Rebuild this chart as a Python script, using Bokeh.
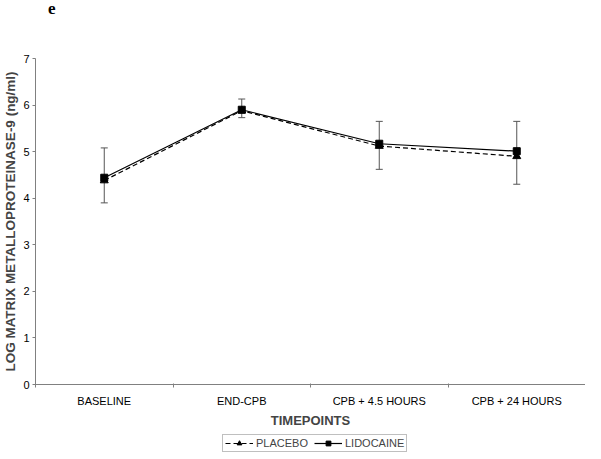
from bokeh.plotting import figure
from bokeh.layouts import column
from bokeh.models import (ColumnDataSource, Whisker, FixedTicker, Range1d, Legend, LegendItem, TeeHead, Div)
from bokeh.embed import file_html
from bokeh.resources import INLINE

categories = ["BASELINE", "END-CPB", "CPB + 4.5 HOURS", "CPB + 24 HOURS"]
placebo = [4.38, 5.88, 5.12, 4.90]
lidocaine = [4.44, 5.90, 5.17, 5.01]
err_upper = [5.08, 6.13, 5.65, 5.65]
err_lower = [3.90, 5.73, 4.62, 4.30]
y_ticks = [0, 1, 2, 3, 4, 5, 6, 7]
series_names = ["PLACEBO", "LIDOCAINE"]

xpos = [i + 0.5 for i in range(len(categories))]
src = ColumnDataSource(dict(x=xpos, placebo=placebo, lidocaine=lidocaine,
                            upper=err_upper, lower=err_lower))

FONT = "Liberation Sans"

title = Div(text="e", width=585, height=10,
            styles={"font-family": "Liberation Serif", "font-weight": "bold",
                    "font-size": "17px", "line-height": "14px", "padding-left": "43px",
                    "position": "relative", "top": "-3px"})

p = figure(width=585, height=410, output_backend="svg", toolbar_location=None,
           x_range=Range1d(0, len(categories)), y_range=Range1d(0, 7),
           min_border_left=0, min_border_right=0, min_border_top=38, min_border_bottom=46)
p.outline_line_color = None
p.grid.visible = False
p.background_fill_color = "white"

# axes
xa = p.xaxis[0]
xa.ticker = FixedTicker(ticks=xpos, minor_ticks=list(range(len(categories) + 1)))
xa.major_label_overrides = {x: c for x, c in zip(xpos, categories)}
xa.major_tick_line_color = None
xa.major_tick_out = 0
xa.minor_tick_out = 3
xa.minor_tick_in = 1
xa.minor_tick_line_color = "#808080"
xa.axis_line_color = "#808080"
xa.major_label_text_font = FONT
xa.major_label_text_font_size = "11px"
xa.major_label_text_color = "black"
xa.major_label_standoff = 7
xa.axis_label = "TIMEPOINTS"
xa.axis_label_text_font = FONT
xa.axis_label_text_font_size = "13px"
xa.axis_label_text_font_style = "bold"
xa.axis_label_standoff = 3

ya = p.yaxis[0]
ya.ticker = FixedTicker(ticks=y_ticks)
ya.minor_tick_line_color = None
ya.major_tick_in = 0
ya.major_tick_out = 3
ya.major_tick_line_color = "#808080"
ya.axis_line_color = "#808080"
ya.major_label_text_font = FONT
ya.major_label_text_font_size = "11px"
ya.major_label_text_color = "black"
ya.major_label_standoff = 3
ya.axis_label = "LOG MATRIX METALLOPROTEINASE-9 (ng/ml)"
ya.axis_label_text_font = FONT
ya.axis_label_text_font_size = "13.5px"
ya.axis_label_text_font_style = "bold"
ya.axis_label_standoff = 2

# error bars
wh = Whisker(source=src, base="x", upper="upper", lower="lower",
             line_color="#555555", line_width=1,
             upper_head=TeeHead(size=7, line_color="#555555"),
             lower_head=TeeHead(size=7, line_color="#555555"))
p.add_layout(wh)

# series
p.line("x", "placebo", source=src, line_color="black", line_width=1.2, line_dash="5 3")
p.scatter("x", "placebo", source=src, marker="triangle", size=8, fill_color="black", line_color="black")
p.line("x", "lidocaine", source=src, line_color="black", line_width=1.2)
p.scatter("x", "lidocaine", source=src, marker="square", size=7, fill_color="black", line_color="black")

# legend strip (separate small figure so the legend is not clipped)
lg = figure(width=585, height=23, output_backend="svg", toolbar_location=None,
            x_axis_type=None, y_axis_type=None, min_border=0,
            x_range=Range1d(0, 1), y_range=Range1d(0, 1))
lg.outline_line_color = None
lg.grid.visible = False
nan = float("nan")
k1 = lg.line(x=[nan], y=[nan], line_color="black", line_width=1.2, line_dash="5 3")
k2 = lg.scatter(x=[nan], y=[nan], marker="triangle", size=8, fill_color="black", line_color="black")
k3 = lg.line(x=[nan], y=[nan], line_color="black", line_width=1.2)
k4 = lg.scatter(x=[nan], y=[nan], marker="square", size=7, fill_color="black", line_color="black")
legend = Legend(items=[LegendItem(label=series_names[0], renderers=[k1, k2]),
                       LegendItem(label=series_names[1], renderers=[k3, k4])],
                orientation="horizontal", location=(187, 1))
legend.label_text_font = FONT
legend.label_text_font_size = "11px"
legend.label_standoff = 3
legend.glyph_width = 28
legend.glyph_height = 12
legend.label_height = 12
legend.spacing = 6
legend.padding = 2
legend.margin = 0
legend.border_line_color = "#808080"
legend.border_line_width = 1
lg.add_layout(legend)

layout = column(title, p, lg, spacing=0)
open("out.html", "w").write(file_html(layout, INLINE))
